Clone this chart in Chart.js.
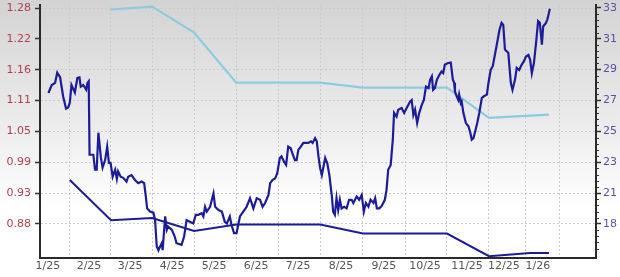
<!DOCTYPE html>
<html><head><meta charset="utf-8">
<script src="https://cdn.jsdelivr.net/npm/chart.js@4.4.1/dist/chart.umd.min.js"></script>
<style>html,body{margin:0;padding:0;background:#fff;}#c{display:block;}</style>
</head><body>
<canvas id="c" width="620" height="277"></canvas>
<script>
// x in month units
const monthTicks = [0.71,1.69,2.67,3.67,4.67,5.67,6.67,7.69,8.71,9.69,10.69,11.57,12.38];
const monthLabels = ['1/25','2/25','3/25','4/25','5/25','6/25','7/25','8/25','9/25','10/25','11/25','12/25','1/26'];
const leftTickValues = [0.875,0.9325,0.99,1.0475,1.105,1.1625,1.22,1.2775];
const leftTickLabels = ['0.88','0.93','0.99','1.05','1.11','1.16','1.22','1.28'];
const rightTickValues = [19,21,23,25,27,29,31,33];
const rightTickLabels = ['18','21','23','25','27','29','31','33'];

const priceSeries = [
[0.20,1.119],[0.28,1.134],[0.36,1.138],[0.41,1.157],[0.48,1.148],[0.55,1.113],[0.62,1.090],[0.67,1.092],[0.71,1.101],[0.75,1.134],[0.83,1.120],[0.89,1.147],[0.94,1.148],[0.97,1.131],[1.03,1.134],[1.10,1.125],[1.13,1.138],[1.16,1.141],[1.18,1.004],
[1.27,1.004],[1.31,0.976],[1.35,0.976],[1.39,1.045],[1.45,0.998],[1.49,0.980],[1.55,0.994],[1.60,1.019],[1.64,0.989],[1.68,0.989],[1.73,0.963],[1.79,0.976],[1.83,0.959],[1.86,0.973],[1.92,0.963],[1.98,0.961],[2.06,0.954],[2.10,0.963],[2.18,0.966],[2.26,0.957],[2.34,0.951],[2.42,0.954],[2.48,0.951],[2.52,0.926],[2.55,0.904],[2.62,0.898],[2.70,0.896],[2.74,0.882],[2.78,0.833],[2.82,0.826],[2.86,0.833],[2.90,0.839],[2.92,0.826],[2.98,0.889],[3.02,0.864],[3.05,0.870],[3.14,0.864],[3.21,0.851],[3.25,0.839],[3.37,0.836],[3.43,0.851],[3.49,0.882],[3.57,0.879],[3.65,0.876],[3.71,0.892],[3.77,0.892],[3.85,0.895],[3.89,0.889],[3.93,0.907],[3.97,0.898],[4.05,0.907],[4.13,0.932],[4.17,0.907],[4.25,0.901],[4.33,0.898],[4.40,0.879],[4.45,0.876],[4.52,0.889],
[4.56,0.873],[4.62,0.858],[4.68,0.858],[4.72,0.873],[4.76,0.889],[4.84,0.898],[4.92,0.907],[5.00,0.923],[5.08,0.904],[5.16,0.923],[5.24,0.920],[5.30,0.907],[5.36,0.914],[5.44,0.929],[5.48,0.951],[5.54,0.957],[5.60,0.960],[5.65,0.970],[5.71,0.998],[5.75,1.001],[5.81,0.991],[5.86,0.985],[5.91,1.019],[5.97,1.016],[6.02,1.004],[6.07,0.994],[6.11,0.994],[6.15,1.013],[6.21,1.019],[6.27,1.026],[6.33,1.026],[6.39,1.026],[6.45,1.029],[6.49,1.026],[6.55,1.035],[6.59,1.029],[6.63,1.001],[6.67,0.979],[6.71,0.966],[6.75,0.982],[6.79,0.998],[6.84,0.988],[6.89,0.966],[6.95,0.926],[6.98,0.898],[7.02,0.892],[7.06,0.923],[7.10,0.901],[7.14,0.920],[7.18,0.904],[7.24,0.907],[7.30,0.904],[7.36,0.920],[7.42,0.920],[7.46,0.914],[7.54,0.926],[7.60,0.920],[7.66,0.929],[7.71,0.898],[7.76,0.914],[7.82,0.907],[7.87,0.920],[7.94,0.914],[7.98,0.923],[8.02,0.904],[8.08,0.904],[8.14,0.909],[8.21,0.920],[8.25,0.938],[8.29,0.976],[8.35,0.985],[8.40,1.032],[8.43,1.082],
[8.49,1.075],[8.53,1.088],[8.61,1.091],[8.67,1.082],[8.73,1.091],[8.81,1.103],[8.85,1.106],[8.89,1.078],[8.93,1.088],[8.98,1.063],[9.03,1.082],[9.09,1.097],[9.14,1.106],[9.19,1.131],[9.25,1.128],[9.29,1.144],[9.33,1.150],[9.36,1.125],[9.40,1.128],[9.45,1.144],[9.51,1.153],[9.56,1.159],[9.60,1.156],[9.64,1.172],[9.72,1.175],[9.78,1.176],[9.83,1.144],[9.86,1.138],[9.88,1.122],[9.92,1.113],[9.96,1.106],[9.98,1.116],[10.02,1.100],[10.04,1.103],[10.08,1.082],[10.14,1.063],[10.20,1.057],[10.24,1.047],[10.28,1.032],[10.32,1.035],[10.36,1.047],[10.41,1.063],[10.46,1.082],[10.52,1.110],[10.57,1.113],[10.64,1.116],[10.67,1.134],[10.73,1.162],[10.78,1.169],[10.83,1.190],[10.89,1.215],[10.94,1.237],[10.99,1.250],[11.03,1.246],[11.07,1.200],[11.11,1.197],[11.15,1.194],[11.21,1.138],[11.25,1.125],[11.31,1.144],[11.35,1.166],[11.41,1.162],[11.47,1.172],[11.52,1.178],[11.57,1.187],[11.63,1.190],[11.67,1.181],[11.71,1.156],[11.76,1.175],[11.81,1.212],[11.86,1.253],[11.90,1.250],[11.95,1.209],[11.98,1.243],[12.05,1.250],[12.08,1.256],[12.14,1.276]
];
const peSeries = [[1.67,32.90],[2.67,33.09],[3.67,31.40],[4.67,28.16],[5.67,28.16],[6.67,28.16],[7.69,27.83],[8.71,27.83],[9.69,27.83],[10.69,25.88],[12.12,26.08]];
const consensusSeries = [[0.71,0.957],[1.69,0.882],[2.67,0.886],[3.67,0.862],[4.67,0.874],[5.67,0.874],[6.67,0.874],[7.69,0.857],[8.71,0.857],[9.69,0.857],[10.69,0.815],[11.67,0.821],[12.12,0.821]];

const toXY = arr => arr.map(p => ({x:p[0], y:p[1]}));
const FONT = {family:'DejaVu Sans', size:11};

const bgPlugin = {
  id:'bg',
  beforeDraw(chart){
    const ctx = chart.ctx;
    const g = ctx.createLinearGradient(0,0,0,chart.height);
    g.addColorStop(0,'#d3d3d3');
    g.addColorStop(0.45,'#ececec');
    g.addColorStop(0.75,'#ffffff');
    g.addColorStop(1,'#ffffff');
    ctx.save(); ctx.fillStyle = g; ctx.fillRect(0,0,chart.width,chart.height); ctx.restore();
  }
};
const minorPlugin = {
  id:'minor',
  afterDraw(chart){
    const s = chart.scales.y2, a = chart.chartArea, ctx = chart.ctx;
    const pTop = s.getPixelForValue(rightTickValues[rightTickValues.length-1]);
    const step = (s.getPixelForValue(rightTickValues[0]) - s.getPixelForValue(rightTickValues[1]))/5;
    ctx.save(); ctx.strokeStyle='#333'; ctx.lineWidth=1; ctx.beginPath();
    for (let k=1; ; k++){
      const y = pTop + k*step;
      if (y > a.bottom - 2) break;
      if (k % 5 === 0) continue;
      const yy = Math.round(y)+0.5;
      ctx.moveTo(a.right, yy); ctx.lineTo(a.right+3, yy);
    }
    ctx.stroke(); ctx.restore();
  }
};

new Chart(document.getElementById('c'), {
  type:'line',
  data:{datasets:[
    {label:'Price', data:toXY(priceSeries), yAxisID:'y', borderColor:'#1c1c98', borderWidth:2.2, pointRadius:0, tension:0, fill:false},
    {label:'Consensus', data:toXY(consensusSeries), yAxisID:'y', borderColor:'#1c1c98', borderWidth:2, pointRadius:0, tension:0, fill:false},
    {label:'P/E', data:toXY(peSeries), yAxisID:'y2', borderColor:'#8ccbe0', borderWidth:2.2, pointRadius:0, tension:0, fill:false}
  ]},
  options:{
    responsive:false, animation:false, events:[],
    layout:{padding:{top:5,left:0,right:0,bottom:0}},
    plugins:{legend:{display:false}, tooltip:{enabled:false}},
    scales:{
      x:{type:'linear', min:0, max:13.238,
        afterBuildTicks:s=>{ s.ticks = monthTicks.map(v=>({value:v})); },
        afterFit:s=>{ s.height = 19; s.paddingLeft=0; s.paddingRight=0; },
        ticks:{callback:(v,i)=>monthLabels[i], autoSkip:false, maxRotation:0, minRotation:0, labelOffset:-22, padding:2, color:'#555', font:FONT},
        grid:{color:'#cbcbcb', lineWidth:1, drawTicks:false},
        border:{color:'#2a2a2a', width:2, dash:[2,2]}
      },
      y:{type:'linear', position:'left', min:0.8115, max:1.2831,
        afterBuildTicks:s=>{ s.ticks = leftTickValues.map(v=>({value:v})); },
        afterFit:s=>{ s.width = 40; s.paddingTop=0; s.paddingBottom=0; },
        ticks:{callback:(v,i)=>leftTickLabels[i], padding:4, color:'#b0404f', font:FONT},
        grid:{color:'#cbcbcb', lineWidth:1, drawTicks:true, tickLength:5, tickColor:'#333', tickWidth:1.5, tickBorderDash:[]},
        border:{color:'#2a2a2a', width:2, dash:[2,2]}
      },
      y2:{type:'linear', position:'right', min:16.79, max:33.19,
        afterBuildTicks:s=>{ s.ticks = rightTickValues.map(v=>({value:v})); },
        afterFit:s=>{ s.width = 24; s.paddingTop=0; s.paddingBottom=0; },
        ticks:{callback:(v,i)=>rightTickLabels[i], padding:2, color:'#5454a0', font:FONT},
        grid:{drawOnChartArea:false, drawTicks:true, tickLength:5, tickColor:'#333', tickWidth:1.5, tickBorderDash:[]},
        border:{color:'#2a2a2a', width:2}
      }
    }
  },
  plugins:[bgPlugin, minorPlugin]
});
</script>
</body></html>
